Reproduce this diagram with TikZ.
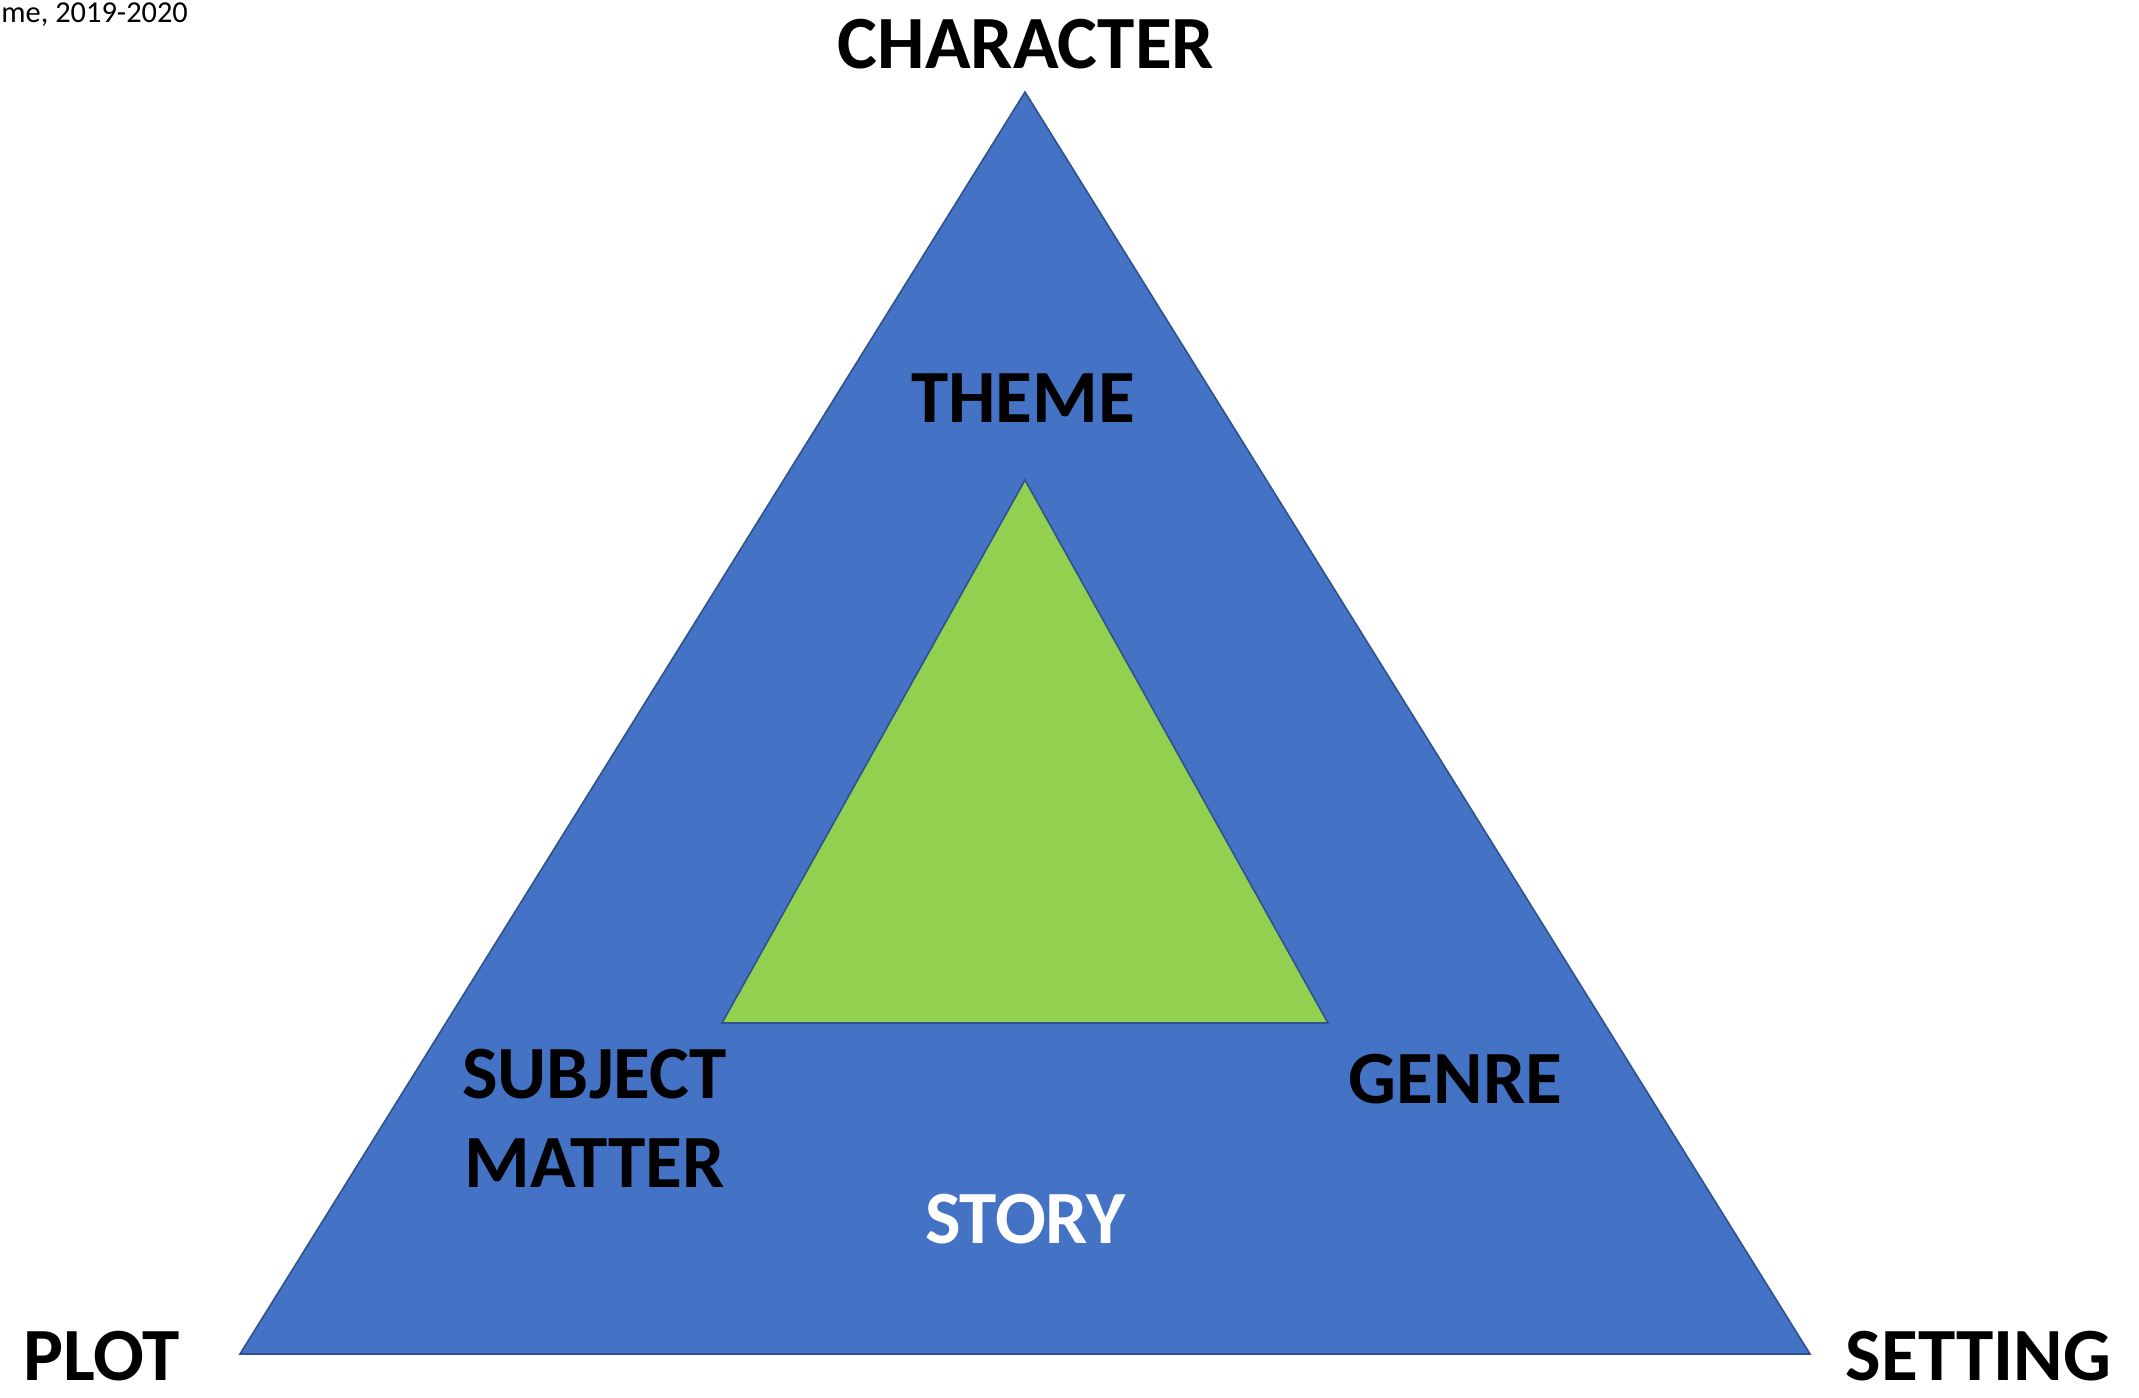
\documentclass[tikz,border=0pt]{standalone}
\usepackage{fontspec}
\setmainfont{Carlito}
\definecolor{outerblue}{HTML}{4472C4}
\definecolor{innergreen}{HTML}{92D050}
\definecolor{edgeblue}{HTML}{2F528F}
\begin{document}
\begin{tikzpicture}[x=0.5pt,y=-0.5pt,
  lbl/.style={font=\fontsize{37.6}{44}\selectfont\bfseries, inner sep=0pt, anchor=base},
  tri/.style={draw=edgeblue, line width=0.8pt, line join=miter}]
\useasboundingbox (0,0) rectangle (2139,1397);
\fill[white] (0,0) rectangle (2139,1397);
% outer triangle
\coordinate (oa) at (1025,92);
\coordinate (ol) at (240,1354);
\coordinate (or) at (1810,1354);
\filldraw[tri, fill=outerblue] (oa) -- (ol) -- (or) -- cycle;
% inner triangle
\coordinate (ia) at (1025,480);
\coordinate (il) at (722,1023);
\coordinate (ir) at (1328,1023);
\filldraw[tri, fill=innergreen] (ia) -- (il) -- (ir) -- cycle;
% labels
\node[inner sep=0pt, anchor=base west, font=\fontsize{15.2}{18}\selectfont] (note) at (1,22) {me, 2019-2020};
\node[lbl] (character) at (1026,68) {CHARACTER};
\node[lbl] (theme) at (1023,422) {THEME};
\node[lbl] (subject) at (594.5,1098) {SUBJECT};
\node[lbl] (matter) at (594.5,1187) {MATTER};
\node[lbl] (genre) at (1455.5,1103) {GENRE};
\node[lbl, text=white] (story) at (1025.5,1243) {STORY};
\node[lbl] (plot) at (101.5,1380) {PLOT};
\node[lbl] (setting) at (1978.5,1380) {SETTING};
\end{tikzpicture}
\end{document}
